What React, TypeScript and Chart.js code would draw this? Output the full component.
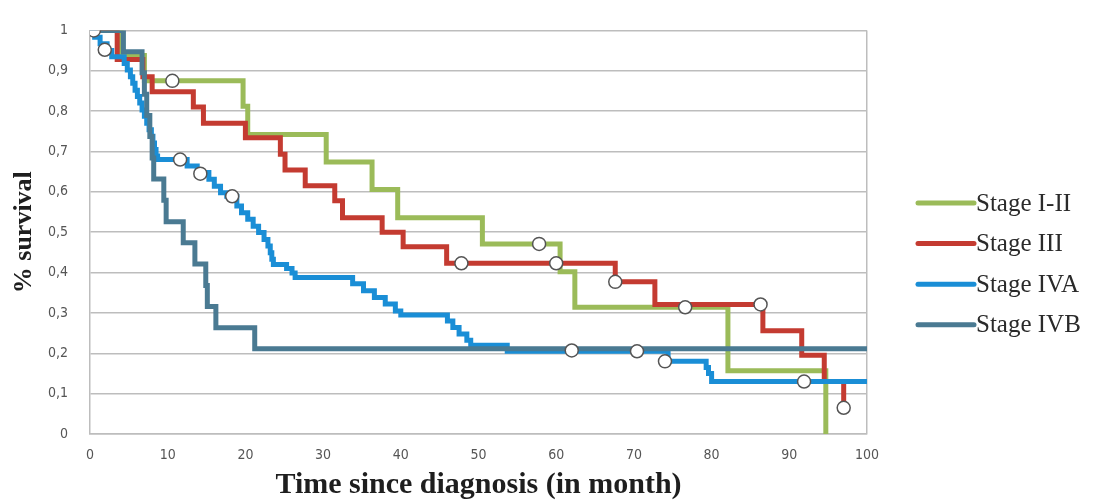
import { useEffect, useRef } from "react";
import { Chart, registerables } from "chart.js";

Chart.register(...registerables);

// ---- data ----
const seriesNames = ["Stage I-II", "Stage III", "Stage IVA", "Stage IVB"];
const seriesColors = ["#9bbb59", "#c43b31", "#1a8ed6", "#4a7a92"];

const stage12Times = [0, 4.0, 7.0, 19.7, 20.3, 30.4, 36.3, 39.6, 50.5, 60.5, 62.4, 82.1, 94.7];
const stage12Surv = [1, 0.938, 0.875, 0.812, 0.742, 0.674, 0.606, 0.536, 0.471, 0.402, 0.314, 0.157, 0];
const stage12CensorTimes = [10.6, 57.8, 76.6];
const stage12CensorSurv = [0.875, 0.471, 0.314];

const stage3Times = [0, 3.5, 6.8, 8.0, 13.3, 14.6, 20.0, 24.5, 25.1, 27.7, 31.5, 32.5, 37.6, 40.3, 45.9, 67.6, 72.7, 86.6, 91.6, 94.5, 97.0];
const stage3Surv = [1, 0.928, 0.885, 0.848, 0.810, 0.770, 0.734, 0.693, 0.654, 0.615, 0.578, 0.536, 0.500, 0.464, 0.423, 0.377, 0.321, 0.256, 0.195, 0.130, 0.065];
const stage3CensorTimes = [47.8, 60.0, 67.6, 86.3, 97.0];
const stage3CensorSurv = [0.423, 0.423, 0.377, 0.321, 0.065];

const stage4aTimes = [0, 0.6, 1.3, 2.2, 2.8, 4.4, 4.8, 5.2, 5.5, 5.8, 6.1, 6.4, 6.7, 7.0, 7.3, 7.6, 7.9, 8.1, 8.3, 8.5, 8.7, 12.5, 13.8, 15.3, 16.0, 16.8, 17.6, 18.9, 19.5, 20.3, 21.0, 21.7, 22.4, 22.9, 23.2, 23.4, 23.6, 25.3, 26.0, 26.4, 33.8, 35.2, 36.6, 38.0, 39.3, 40.0, 46.0, 46.7, 47.5, 48.5, 49.0, 53.7, 74.4, 79.3, 79.6, 80.0, 100];
const stage4aSurv = [1, 0.983, 0.967, 0.950, 0.935, 0.918, 0.902, 0.885, 0.869, 0.852, 0.836, 0.820, 0.803, 0.787, 0.770, 0.754, 0.738, 0.721, 0.705, 0.689, 0.680, 0.664, 0.648, 0.631, 0.614, 0.598, 0.589, 0.565, 0.548, 0.532, 0.515, 0.499, 0.482, 0.466, 0.449, 0.433, 0.420, 0.410, 0.399, 0.388, 0.372, 0.355, 0.338, 0.322, 0.305, 0.295, 0.280, 0.264, 0.248, 0.232, 0.220, 0.205, 0.180, 0.165, 0.150, 0.130, 0.130];
const stage4aCensorTimes = [0.5, 1.9, 11.6, 14.2, 18.3, 62.0, 70.4, 74.0, 91.9];
const stage4aCensorSurv = [1.0, 0.952, 0.680, 0.645, 0.589, 0.207, 0.205, 0.180, 0.130];

const stage4bTimes = [0, 4.3, 6.7, 7.0, 7.3, 7.7, 8.0, 8.2, 9.5, 9.8, 12.0, 13.5, 14.9, 15.1, 16.2, 21.2, 100];
const stage4bSurv = [1, 0.947, 0.895, 0.842, 0.789, 0.737, 0.684, 0.632, 0.579, 0.526, 0.474, 0.421, 0.368, 0.316, 0.263, 0.211, 0.211];

const xTicks = [0, 10, 20, 30, 40, 50, 60, 70, 80, 90, 100];
const yTicks = [0, 0.1, 0.2, 0.3, 0.4, 0.5, 0.6, 0.7, 0.8, 0.9, 1];

const curveTimes = [stage12Times, stage3Times, stage4aTimes, stage4bTimes];
const curveSurv = [stage12Surv, stage3Surv, stage4aSurv, stage4bSurv];
const censorTimes = [stage12CensorTimes, stage3CensorTimes, stage4aCensorTimes, []];
const censorSurv = [stage12CensorSurv, stage3CensorSurv, stage4aCensorSurv, []];

const toPoints = (xs: number[], ys: number[]) => xs.map((x, i) => ({ x, y: ys[i] }));

const GRID = "#bdbdbd";
const TICK_FONT = "'Liberation Sans Narrow', 'DejaVu Sans Condensed', 'Liberation Sans', sans-serif";
const SERIF = "'Liberation Serif', 'DejaVu Serif', serif";

const sideLegend = {
  id: "sideLegend",
  afterDraw(chart: any) {
    const { ctx, chartArea } = chart;
    ctx.save();
    const x0 = chartArea.right + 51;
    const lineLen = 56;
    const rowGap = 40.6;
    const top = 203;
    ctx.font = `25px ${SERIF}`;
    ctx.textBaseline = "middle";
    ctx.textAlign = "left";
    seriesNames.forEach((name, i) => {
      const y = top + i * rowGap;
      ctx.strokeStyle = seriesColors[i];
      ctx.lineWidth = 5;
      ctx.lineCap = "round";
      ctx.beginPath();
      ctx.moveTo(x0, y);
      ctx.lineTo(x0 + lineLen, y);
      ctx.stroke();
      ctx.fillStyle = "#2a2a2a";
      ctx.fillText(name, x0 + lineLen + 2, y + 1);
    });
    ctx.restore();
  },
};

export default function App() {
  const ref = useRef<HTMLCanvasElement | null>(null);

  useEffect(() => {
    if (!ref.current) return;
    const lineSets = seriesNames.map((name, i) => ({
      type: "line" as const,
      label: name,
      data: toPoints(curveTimes[i], curveSurv[i]),
      borderColor: seriesColors[i],
      backgroundColor: seriesColors[i],
      borderWidth: 5,
      stepped: "before" as const,
      pointRadius: 0,
      pointHoverRadius: 0,
      fill: false,
      order: 4 - i,
    }));
    const censorSets = seriesNames.map((name, i) => ({
      type: "line" as const,
      label: name + " censored",
      data: toPoints(censorTimes[i], censorSurv[i]),
      showLine: false,
      pointRadius: 6.5,
      pointBackgroundColor: "#ffffff",
      pointBorderColor: "#555555",
      pointBorderWidth: 1.5,
      order: 0,
    }));
    const chart = new Chart(ref.current, {
      type: "line",
      data: { datasets: [...lineSets, ...censorSets] as any },
      options: {
        animation: false,
        responsive: false,
        maintainAspectRatio: false,
        layout: { padding: { left: 0, right: 230, top: 20, bottom: 0 } },
        plugins: { legend: { display: false }, tooltip: { enabled: false } },
        scales: {
          x: {
            type: "linear",
            min: 0,
            max: 100,
            afterBuildTicks: (scale: any) => {
              scale.ticks = xTicks.map((v) => ({ value: v }));
            },
            afterFit: (scale: any) => {
              scale.height = 70;
            },
            ticks: {
              color: "#555555",
              font: { family: TICK_FONT, size: 14 },
              padding: 13,
              maxRotation: 0,
            },
            grid: {
              drawTicks: false,
              lineWidth: 1.5,
              color: (c: any) => (c.tick && c.tick.value === 100 ? GRID : "rgba(0,0,0,0)"),
            },
            border: { display: true, color: GRID, width: 1.5 },
            title: {
              display: true,
              text: "Time since diagnosis (in month)",
              color: "#1e1e1e",
              font: { family: SERIF, size: 30, weight: "bold" },
              padding: { top: 0, bottom: 1 },
            },
          },
          y: {
            type: "linear",
            min: 0,
            max: 1,
            afterBuildTicks: (scale: any) => {
              scale.ticks = yTicks.map((v) => ({ value: v }));
            },
            afterFit: (scale: any) => {
              scale.width = 90;
            },
            ticks: {
              color: "#555555",
              font: { family: TICK_FONT, size: 14 },
              padding: 22,
              callback: (v: any) => String(Math.round(Number(v) * 10) / 10).replace(".", ","),
            },
            grid: { drawTicks: false, lineWidth: 1.5, color: GRID },
            border: { display: true, color: GRID, width: 1.5 },
            title: {
              display: true,
              text: "% survival",
              color: "#1e1e1e",
              font: { family: SERIF, size: 26, weight: "bold" },
              padding: { top: 9, bottom: 0 },
            },
          },
        },
      },
      plugins: [sideLegend],
    });
    return () => chart.destroy();
  }, []);

  return (
    <div style={{ position: "fixed", left: 0, top: 0, width: 1097, height: 504, background: "#ffffff" }}>
      <canvas ref={ref} width={1097} height={504} style={{ display: "block" }} />
    </div>
  );
}
